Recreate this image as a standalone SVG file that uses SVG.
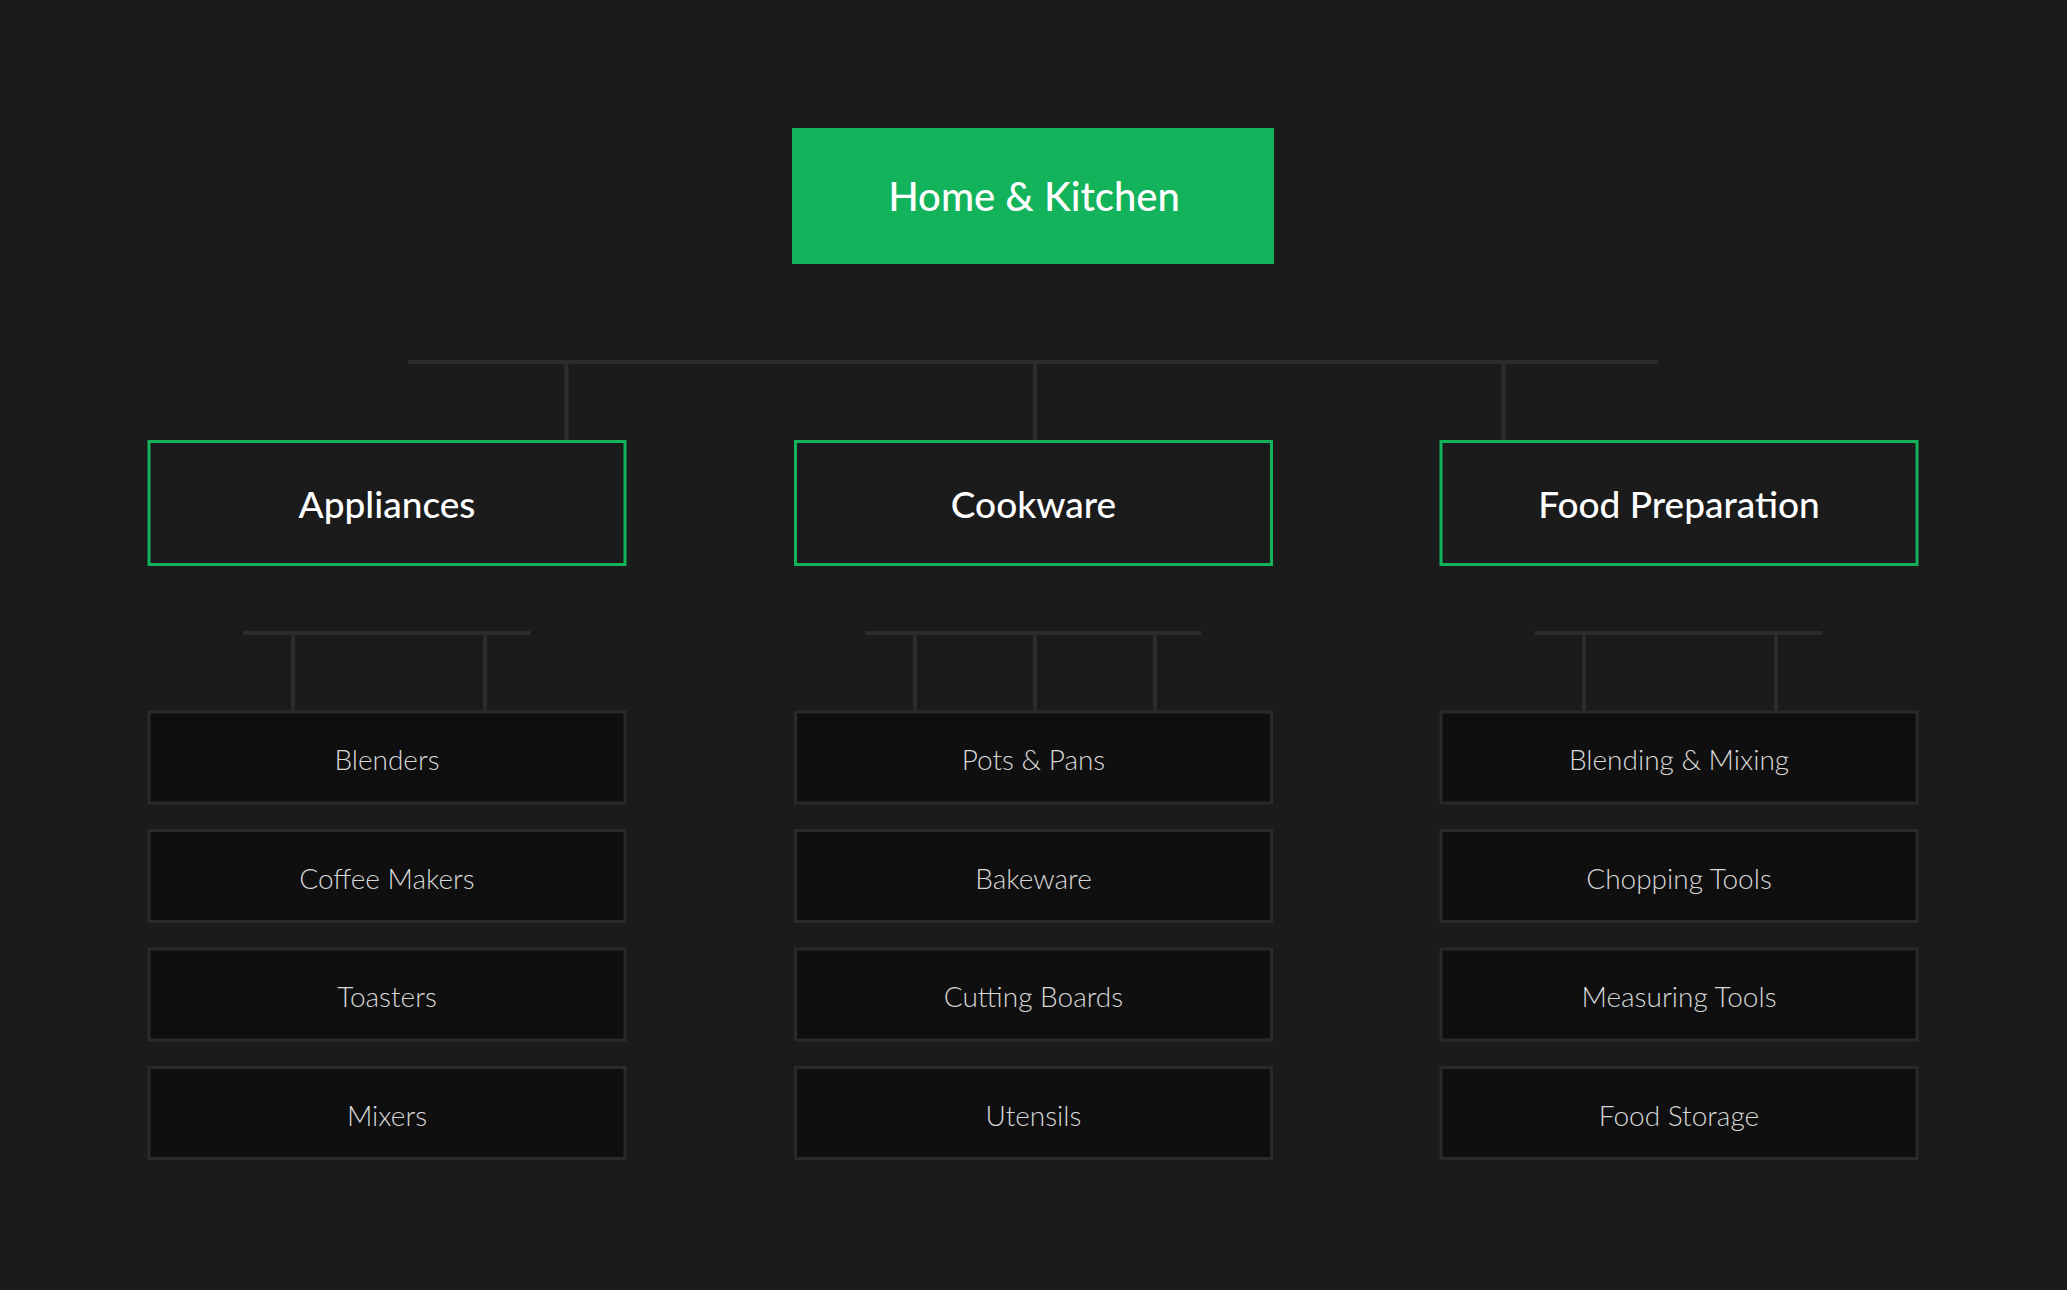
<svg xmlns="http://www.w3.org/2000/svg" width="2067" height="1290" viewBox="0 0 2067 1290">
<style>
.bg{fill:#1b1b1b}
.root rect{fill:#13b35b}
.root text{fill:#ffffff;font-family:"Lato","Liberation Sans",sans-serif;font-size:40px;font-weight:500;text-anchor:middle}
.cat rect{fill:#1b1b1b;stroke:#13b35b;stroke-width:3}
.cat text{fill:#ffffff;font-family:"Lato","Liberation Sans",sans-serif;font-size:37px;font-weight:500;text-anchor:middle}
.leaf rect{fill:#0f0f0f;stroke:#2a2a2a;stroke-width:3}
.leaf text{fill:#d8d8d8;font-family:"Lato","Liberation Sans",sans-serif;font-size:28px;font-weight:300;text-anchor:middle}
.conn line{stroke:#2c2c2c;stroke-width:4}
</style>
<rect class="bg" x="0" y="0" width="2067" height="1290"/>
<g id="connectors" class="conn">
<line x1="408" y1="362" x2="1658" y2="362"/>
<line x1="566.5" y1="362" x2="566.5" y2="440"/>
<line x1="1035" y1="362" x2="1035" y2="440"/>
<line x1="1503.5" y1="362" x2="1503.5" y2="440"/>
<line x1="243" y1="633" x2="531" y2="633"/>
<line x1="293" y1="633" x2="293" y2="711"/>
<line x1="485" y1="633" x2="485" y2="711"/>
<line x1="865" y1="633" x2="1201" y2="633"/>
<line x1="915" y1="633" x2="915" y2="711"/>
<line x1="1035" y1="633" x2="1035" y2="711"/>
<line x1="1155" y1="633" x2="1155" y2="711"/>
<line x1="1535" y1="633" x2="1822" y2="633"/>
<line x1="1584" y1="633" x2="1584" y2="711"/>
<line x1="1776" y1="633" x2="1776" y2="711"/>
</g>
<g id="home-kitchen" class="root"><rect x="792" y="128" width="482" height="136"/><text x="1034" y="211">Home &amp; Kitchen</text></g>
<g id="appliances" class="cat"><rect x="149" y="441.5" width="476" height="123"/><text x="387" y="518">Appliances</text></g>
<g id="cookware" class="cat"><rect x="795.5" y="441.5" width="476" height="123"/><text x="1033.5" y="518">Cookware</text></g>
<g id="food-preparation" class="cat"><rect x="1441" y="441.5" width="476" height="123"/><text x="1679" y="518">Food Preparation</text></g>
<g id="blenders" class="leaf"><rect x="149" y="712" width="476" height="91"/><text x="387" y="770">Blenders</text></g>
<g id="coffee-makers" class="leaf"><rect x="149" y="830.5" width="476" height="91"/><text x="387" y="888.5">Coffee Makers</text></g>
<g id="toasters" class="leaf"><rect x="149" y="949" width="476" height="91"/><text x="387" y="1007">Toasters</text></g>
<g id="mixers" class="leaf"><rect x="149" y="1067.5" width="476" height="91"/><text x="387" y="1125.5">Mixers</text></g>
<g id="pots-pans" class="leaf"><rect x="795.5" y="712" width="476" height="91"/><text x="1033.5" y="770">Pots &amp; Pans</text></g>
<g id="bakeware" class="leaf"><rect x="795.5" y="830.5" width="476" height="91"/><text x="1033.5" y="888.5">Bakeware</text></g>
<g id="cutting-boards" class="leaf"><rect x="795.5" y="949" width="476" height="91"/><text x="1033.5" y="1007">Cutting Boards</text></g>
<g id="utensils" class="leaf"><rect x="795.5" y="1067.5" width="476" height="91"/><text x="1033.5" y="1125.5">Utensils</text></g>
<g id="blending-mixing" class="leaf"><rect x="1441" y="712" width="476" height="91"/><text x="1679" y="770">Blending &amp; Mixing</text></g>
<g id="chopping-tools" class="leaf"><rect x="1441" y="830.5" width="476" height="91"/><text x="1679" y="888.5">Chopping Tools</text></g>
<g id="measuring-tools" class="leaf"><rect x="1441" y="949" width="476" height="91"/><text x="1679" y="1007">Measuring Tools</text></g>
<g id="food-storage" class="leaf"><rect x="1441" y="1067.5" width="476" height="91"/><text x="1679" y="1125.5">Food Storage</text></g>
</svg>
